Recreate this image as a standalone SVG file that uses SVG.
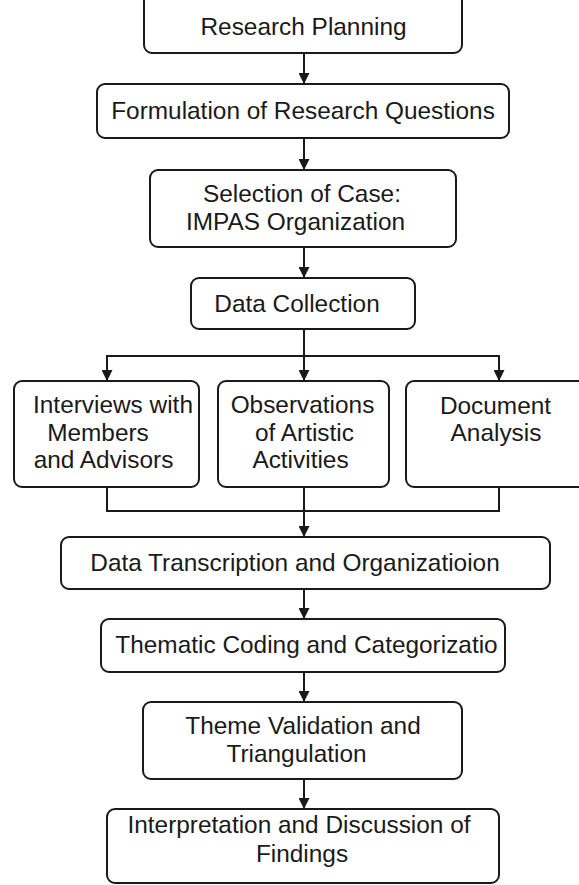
<svg xmlns="http://www.w3.org/2000/svg" width="579" height="885" viewBox="0 0 579 885">
<style>
.box{fill:#fff;stroke:#1a1a1a;stroke-width:2}
.lbl{font-family:"Liberation Sans",Arial,sans-serif;font-size:24.4px;fill:#1a1a1a;text-anchor:middle}
.con{fill:none;stroke:#1a1a1a;stroke-width:2}
</style>
<defs>
<marker id="arr" viewBox="0 0 10 10" refX="10" refY="5" markerWidth="11" markerHeight="11" markerUnits="userSpaceOnUse" orient="auto">
<path d="M0,0 L10,5 L0,10 z" fill="#1a1a1a"/>
</marker>
</defs>
<rect width="579" height="885" fill="#fff"/>
<g id="connectors">
<line class="con" x1="304" y1="53" x2="304" y2="84" marker-end="url(#arr)"/>
<line class="con" x1="304" y1="138" x2="304" y2="170" marker-end="url(#arr)"/>
<line class="con" x1="304" y1="247" x2="304" y2="278" marker-end="url(#arr)"/>
<line class="con" x1="304" y1="329" x2="304" y2="381" marker-end="url(#arr)"/>
<polyline class="con" points="107,381 107,356 499,356 499,381"/>
<line class="con" x1="107" y1="356" x2="107" y2="381" marker-end="url(#arr)"/>
<line class="con" x1="499" y1="356" x2="499" y2="381" marker-end="url(#arr)"/>
<polyline class="con" points="107,487 107,511 499,511 499,487"/>
<line class="con" x1="304" y1="487" x2="304" y2="537" marker-end="url(#arr)"/>
<line class="con" x1="304" y1="589" x2="304" y2="619" marker-end="url(#arr)"/>
<line class="con" x1="304" y1="672" x2="304" y2="702" marker-end="url(#arr)"/>
<line class="con" x1="304" y1="779" x2="304" y2="809" marker-end="url(#arr)"/>
</g>
<g id="research-planning">
<rect class="box" x="144" y="-20" width="318" height="73" rx="8"/>
<text class="lbl" x="303.5" y="35">Research Planning</text>
</g>
<g id="formulation">
<rect class="box" x="97" y="84" width="412" height="54" rx="8"/>
<text class="lbl" x="303" y="119">Formulation of Research Questions</text>
</g>
<g id="selection">
<rect class="box" x="150" y="170" width="306" height="77" rx="8"/>
<text class="lbl" x="302" y="202">Selection of Case:</text>
<text class="lbl" x="295.5" y="230">IMPAS Organization</text>
</g>
<g id="data-collection">
<rect class="box" x="191" y="278" width="224" height="51" rx="8"/>
<text class="lbl" x="297" y="312">Data Collection</text>
</g>
<g id="interviews">
<rect class="box" x="14" y="381" width="185" height="106" rx="8"/>
<text class="lbl" x="113" y="413">Interviews with</text>
<text class="lbl" x="98" y="441">Members</text>
<text class="lbl" x="103.5" y="468">and Advisors</text>
</g>
<g id="observations">
<rect class="box" x="218" y="381" width="171" height="106" rx="8"/>
<text class="lbl" x="302.5" y="413">Observations</text>
<text class="lbl" x="304.5" y="441">of Artistic</text>
<text class="lbl" x="300.5" y="468">Activities</text>
</g>
<g id="document-analysis">
<rect class="box" x="406" y="381" width="200" height="106" rx="8"/>
<text class="lbl" x="495.5" y="414">Document</text>
<text class="lbl" x="496" y="441">Analysis</text>
</g>
<g id="transcription">
<rect class="box" x="61" y="537" width="489" height="52" rx="8"/>
<text class="lbl" x="295" y="571">Data Transcription and Organizatioion</text>
</g>
<g id="thematic-coding">
<rect class="box" x="101" y="619" width="404" height="53" rx="8"/>
<text class="lbl" x="306.5" y="653">Thematic Coding and Categorizatio</text>
</g>
<g id="theme-validation">
<rect class="box" x="143" y="702" width="319" height="77" rx="8"/>
<text class="lbl" x="303" y="734">Theme Validation and</text>
<text class="lbl" x="296.5" y="762">Triangulation</text>
</g>
<g id="interpretation">
<rect class="box" x="107" y="809" width="392" height="74" rx="8"/>
<text class="lbl" x="299" y="833">Interpretation and Discussion of</text>
<text class="lbl" x="302" y="862">Findings</text>
</g>
</svg>
